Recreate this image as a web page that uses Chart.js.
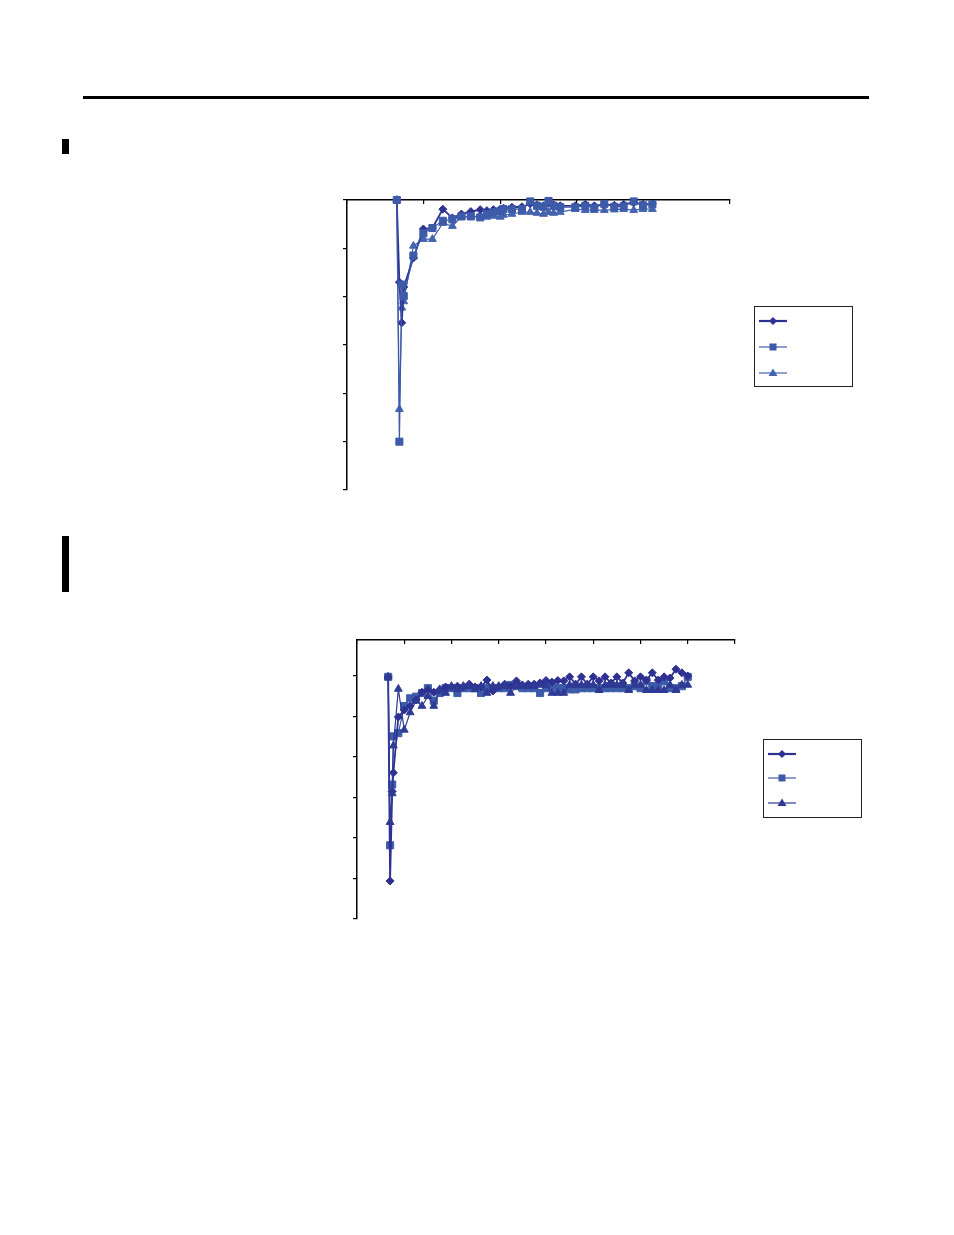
<!DOCTYPE html>
<html>
<head>
<meta charset="utf-8">
<script src="https://cdn.jsdelivr.net/npm/chart.js@4"></script>
<style>
  body { margin: 0; background: #fff; width: 954px; height: 1235px; position: relative; font-family: "Liberation Sans", Arial, sans-serif; }
  .rule { position: absolute; left: 83px; top: 96px; width: 786px; height: 3px; background: #000; }
  .bar { position: absolute; left: 62px; width: 7px; background: #000; }
  canvas { position: absolute; }
  .legend { position: absolute; border: 1px solid #222; background: #fff; box-sizing: border-box; }
  .legend svg { position: absolute; left: 0; top: 0; }
</style>
</head>
<body>
<div class="rule"></div>
<div class="bar" style="top:139px;height:15px"></div>
<div class="bar" style="top:536px;height:56px"></div>

<canvas id="chart1" width="420" height="320" style="left:327px;top:180px"></canvas>
<canvas id="chart2" width="420" height="310" style="left:337px;top:620px"></canvas>

<div class="legend" style="left:754px;top:306px;width:99px;height:81px">
  <svg width="97" height="79">
    <line x1="4" y1="14" x2="32" y2="14" stroke="#2E3192" stroke-width="2.2"/>
    <polygon points="18,10 22,14 18,18 14,14" fill="#2E3192"/>
    <line x1="4" y1="40" x2="32" y2="40" stroke="#3D5BA9" stroke-width="1.2"/>
    <rect x="14.5" y="36.5" width="7" height="7" fill="#3D5BA9"/>
    <line x1="4" y1="66" x2="32" y2="66" stroke="#4564AF" stroke-width="1.2"/>
    <polygon points="18,61.5 22.5,69 13.5,69" fill="#4564AF"/>
  </svg>
</div>
<div class="legend" style="left:763px;top:739px;width:99px;height:79px">
  <svg width="97" height="77">
    <line x1="4" y1="14" x2="32" y2="14" stroke="#2E3192" stroke-width="2.2"/>
    <polygon points="18,10 22,14 18,18 14,14" fill="#2E3192"/>
    <line x1="4" y1="38" x2="32" y2="38" stroke="#3D5BA9" stroke-width="1.2"/>
    <rect x="14.5" y="34.5" width="7" height="7" fill="#3D5BA9"/>
    <line x1="4" y1="63" x2="32" y2="63" stroke="#2E3A94" stroke-width="1.2"/>
    <polygon points="18,58.5 22.5,66 13.5,66" fill="#2E3A94"/>
  </svg>
</div>

<script>
// ---- chart 1 data ----
const chart1X = [0.650, 0.684, 0.715, 0.741, 0.867, 0.997, 1.115, 1.251, 1.376, 1.494, 1.617,
  1.739, 1.826, 1.912, 2.000, 2.043, 2.153, 2.284, 2.392, 2.480, 2.566, 2.631, 2.697, 2.784,
  2.980, 3.111, 3.229, 3.359, 3.490, 3.612, 3.743, 3.865, 3.987];
const chart1Diamond = [0, -1.7, -2.54, -1.8, -1.2, -0.6, -0.58, -0.19, -0.37, -0.29, -0.24,
  -0.20, -0.22, -0.20, -0.19, -0.17, -0.15, -0.14, -0.08, -0.10, -0.12, -0.06, -0.10, -0.12,
  -0.12, -0.09, -0.12, -0.09, -0.11, -0.09, -0.05, -0.09, -0.08];
const chart1Square = [0, -5.0, -1.75, -1.99, -1.15, -0.69, -0.58, -0.43, -0.40, -0.34, -0.34,
  -0.36, -0.29, -0.25, -0.23, -0.19, -0.19, -0.19, -0.03, -0.12, -0.14, -0.02, -0.12, -0.15,
  -0.15, -0.12, -0.16, -0.08, -0.14, -0.13, -0.03, -0.11, -0.09];
const chart1Triangle = [0, -4.33, -2.23, -2.10, -0.95, -0.81, -0.81, -0.48, -0.54, -0.35, -0.35,
  -0.33, -0.35, -0.33, -0.35, -0.31, -0.29, -0.25, -0.25, -0.27, -0.29, -0.25, -0.27, -0.25,
  -0.19, -0.21, -0.21, -0.21, -0.20, -0.19, -0.21, -0.19, -0.19];

// ---- chart 2 data ----
const chart2X = [0.66, 0.70, 0.745, 0.77, 0.875, 1.0, 1.125, 1.25, 1.375, 1.5, 1.625, 1.75,
  1.875, 2.0, 2.125, 2.25, 2.375, 2.5, 2.625, 2.75, 2.875, 3.0, 3.125, 3.25, 3.375, 3.5, 3.625,
  3.75, 3.875, 4.0, 4.125, 4.25, 4.375, 4.5, 4.625, 4.75, 4.875, 5.0, 5.125, 5.25, 5.375, 5.5,
  5.625, 5.75, 5.875, 6.0, 6.125, 6.25, 6.375, 6.5, 6.625, 6.75, 6.875, 7.0];
const chart2Diamond = [-0.02, -5.06, -2.85, -2.39, -1.01, -0.84, -0.74, -0.59, -0.40, -0.34, -0.40, -0.34,
  -0.27, -0.27, -0.25, -0.27, -0.20, -0.27, -0.27, -0.10, -0.37, -0.27, -0.20, -0.25, -0.12, -0.22, -0.20,
  -0.20, -0.17, -0.11, -0.15, -0.11, -0.12, -0.02, -0.20, -0.02, -0.20, -0.02, -0.12, -0.02, -0.17, -0.02,
  -0.17, 0.08, -0.12, -0.02, -0.10, 0.08, -0.10, -0.02, -0.05, 0.17, 0.08, 0.00];
const chart2Square = [-0.02, -4.18, -2.68, -1.49, -1.41, -0.74, -0.55, -0.51, -0.42, -0.30, -0.61, -0.42,
  -0.30, -0.30, -0.42, -0.30, -0.30, -0.30, -0.42, -0.30, -0.30, -0.30, -0.30, -0.22, -0.25, -0.30, -0.30,
  -0.30, -0.42, -0.30, -0.25, -0.30, -0.30, -0.33, -0.33, -0.30, -0.30, -0.30, -0.30, -0.30, -0.30, -0.30,
  -0.30, -0.30, -0.25, -0.30, -0.13, -0.25, -0.25, -0.13, -0.30, -0.30, -0.25, -0.02];
const chart2Triangle = [-0.02, -3.61, -2.90, -1.72, -0.32, -1.33, -0.90, -0.61, -0.74, -0.50, -0.74, -0.33,
  -0.42, -0.25, -0.33, -0.25, -0.25, -0.33, -0.25, -0.42, -0.25, -0.25, -0.25, -0.42, -0.25, -0.25, -0.25,
  -0.25, -0.22, -0.22, -0.42, -0.42, -0.42, -0.22, -0.22, -0.22, -0.22, -0.22, -0.35, -0.22, -0.22, -0.22,
  -0.22, -0.35, -0.22, -0.22, -0.35, -0.35, -0.35, -0.35, -0.22, -0.35, -0.22, -0.22];

function pts(xs, ys) {
  return xs.map((x, i) => ({ x: x, y: ys[i] }));
}

function series(xs, ys, color, style, radius, width, order) {
  return {
    data: pts(xs, ys),
    borderColor: color,
    backgroundColor: color,
    pointBackgroundColor: color,
    pointBorderColor: color,
    pointStyle: style,
    pointRadius: radius,
    pointBorderWidth: 1,
    borderWidth: width,
    showLine: true,
    tension: 0,
    clip: false,
    order: order
  };
}

function axes(xMax, yMin, yMax, xFit, yFit) {
  return {
    x: {
      type: 'linear', position: 'top', min: 0, max: xMax,
      ticks: { display: false, stepSize: 1 },
      // negative length: tick marks point down into the plot, as in the original
      grid: { display: true, drawOnChartArea: false, drawTicks: true, tickLength: -4, color: '#000', lineWidth: 1.2 },
      border: { display: true, color: '#000', width: 1.5 },
      afterFit: s => { s.height = xFit; }
    },
    y: {
      type: 'linear', position: 'left', min: yMin, max: yMax,
      ticks: { display: false, stepSize: 1, includeBounds: false },
      grid: { display: true, drawOnChartArea: false, drawTicks: true, tickLength: 4, color: '#000', lineWidth: 1.2 },
      border: { display: true, color: '#000', width: 1.5 },
      afterFit: s => { s.width = yFit; }
    }
  };
}

const common = {
  responsive: false,
  animation: false,
  devicePixelRatio: 1,
  plugins: { legend: { display: false }, tooltip: { enabled: false } }
};

new Chart(document.getElementById('chart1'), {
  type: 'scatter',
  data: {
    datasets: [
      series(chart1X, chart1Diamond, '#2E3192', 'rectRot', 4, 1.8, 1),
      series(chart1X, chart1Square, '#3D5BA9', 'rect', 5, 1.2, 0),
      series(chart1X, chart1Triangle, '#4564AF', 'triangle', 4.5, 1.2, 2)
    ]
  },
  options: Object.assign({}, common, {
    layout: { padding: { left: 10, top: 10, right: 17, bottom: 10 } },
    scales: axes(5, -6, 0, 10, 10)
  })
});

new Chart(document.getElementById('chart2'), {
  type: 'scatter',
  data: {
    datasets: [
      series(chart2X, chart2Diamond, '#2E3192', 'rectRot', 4, 1.8, 1),
      series(chart2X, chart2Square, '#3D5BA9', 'rect', 5, 1.2, 2),
      series(chart2X, chart2Triangle, '#2E3A94', 'triangle', 4.5, 1.2, 0)
    ]
  },
  options: Object.assign({}, common, {
    layout: { padding: { left: 10, top: 10, right: 22, bottom: 11 } },
    scales: axes(8, -6, 0.89, 10, 10)
  })
});
</script>
</body>
</html>
